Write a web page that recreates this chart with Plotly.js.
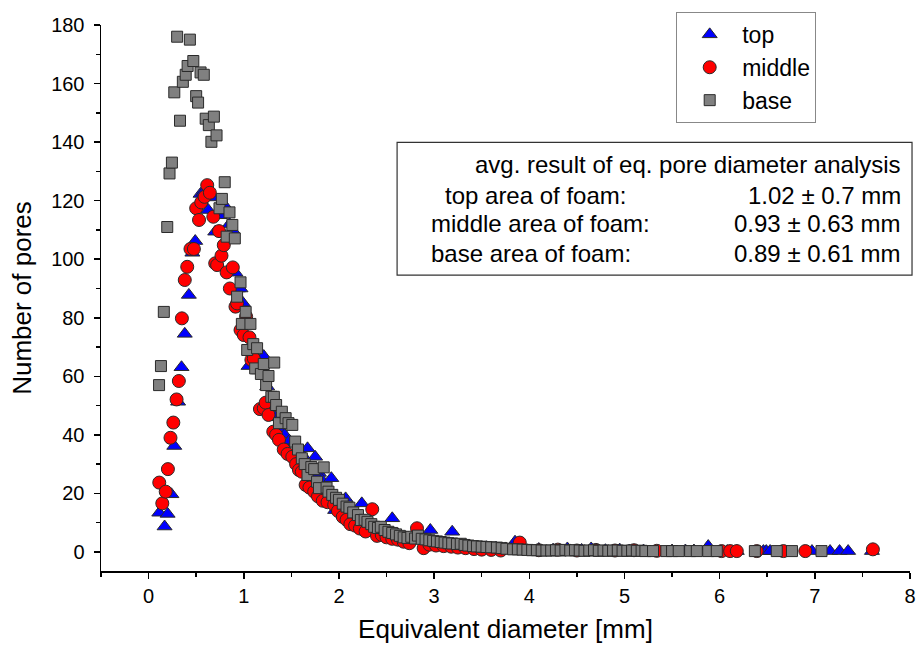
<!DOCTYPE html>
<html>
<head>
<meta charset="utf-8">
<script src="https://cdn.plot.ly/plotly-3.0.1.min.js"></script>
<style>html,body{margin:0;padding:0;background:#fff;}#chart{width:919px;height:651px;}</style>
</head>
<body>
<div id="chart"></div>
<script>
// ---- data ----
const seriesNames = ["top", "middle", "base"];

const topX = [0.112,0.168,0.20,0.24,0.27,0.31,0.346,0.38,0.423,0.46,0.49,0.546,0.58,0.627,0.68,0.70,0.75,0.81,0.85,0.88,0.913,0.94,0.966,0.99,1.02,1.05,1.08,1.12,1.16,1.21,1.246,1.29,1.33,1.38,1.43,1.48,1.53,1.58,1.62,1.67,1.75,1.79,1.82,1.87,1.92,1.96,2.02,2.07,2.13,2.18,2.24,2.30,2.36,2.43,2.50,2.56,2.62,2.70,2.78,2.86,2.96,3.05,3.12,3.19,3.28,3.36,3.45,3.55,3.65,3.75,3.85,3.95,4.10,4.25,4.40,4.55,4.65,4.80,4.95,5.05,5.20,5.50,5.64,5.73,5.88,6.08,6.18,6.46,6.49,6.53,6.97,7.16,7.26,7.35,7.60];
const topY = [13.4,8.7,13,19.7,36.2,51.3,63.1,74.5,87.8,102.2,106.2,122.3,123,116.8,121.1,109.4,115,117.9,112,110,95.4,90,90,85.1,78,63.5,70,67,62,66.9,56.5,50,46,42,40,38,37,34,33,35.4,32.5,27,24.6,22,25.2,14.3,17,18.3,14,12,16.6,10,9,8,7,11.5,6,5,4.5,4,7.5,3,2.5,6.9,2.2,2.0,1.8,1.6,1.4,1.2,3.5,1.0,1.0,0.8,1.2,0.7,1.2,0.6,0.8,0.5,0.5,0.5,0.5,0.5,2.0,0.3,0.3,0.3,0.3,0.3,0.3,0.3,0.3,0.3,0.3];

const midX = [0.112,0.144,0.18,0.203,0.23,0.26,0.294,0.318,0.35,0.38,0.406,0.44,0.476,0.50,0.53,0.553,0.588,0.616,0.644,0.68,0.70,0.72,0.74,0.766,0.79,0.82,0.854,0.885,0.913,0.93,0.966,1.0,1.025,1.06,1.08,1.105,1.17,1.21,1.23,1.26,1.31,1.34,1.37,1.42,1.46,1.51,1.55,1.58,1.61,1.65,1.69,1.74,1.78,1.83,1.88,1.95,1.99,2.04,2.08,2.12,2.17,2.22,2.28,2.35,2.40,2.45,2.50,2.56,2.62,2.68,2.74,2.82,2.89,2.95,3.02,3.10,3.18,3.25,3.33,3.42,3.50,3.60,3.70,3.90,4.10,4.30,4.50,4.70,4.90,5.10,5.34,6.02,6.11,6.18,6.39,6.67,6.90,7.61];
const midY = [23.7,16.6,20.6,28.3,39,44.2,52.1,58.4,79.8,92.9,97.4,103.5,103.5,117.4,113.4,119.4,121.3,125.3,122.7,114.5,98.6,98,109.6,101.2,104.8,95.5,90,97.2,83.8,84.9,75.8,74.1,80.4,73.3,65.6,66.1,48.8,49.1,51,46.8,41.1,40,38.3,35,33.5,32.5,30,28,27.4,22.9,22,20.6,19,17.5,17,16.1,14,12,11,9.5,9,8,7,14.6,5.5,5.8,5,4.5,4.2,3.5,3,8.1,1.3,2.5,2.2,2.0,1.8,1.5,1.3,1.0,0.8,0.7,0.5,3.2,0.6,0.8,0.5,0.7,0.5,0.6,0.4,0.3,0.3,0.3,0.3,0.3,0.3,0.9];

const baseX = [0.11,0.13,0.16,0.196,0.22,0.245,0.27,0.30,0.33,0.36,0.39,0.41,0.434,0.47,0.50,0.52,0.546,0.58,0.60,0.633,0.66,0.686,0.714,0.745,0.77,0.80,0.82,0.85,0.88,0.906,0.93,0.966,0.98,1.02,1.036,1.07,1.10,1.12,1.14,1.18,1.21,1.235,1.26,1.29,1.316,1.32,1.34,1.37,1.40,1.44,1.47,1.51,1.54,1.57,1.61,1.64,1.67,1.71,1.74,1.77,1.79,1.84,1.87,1.89,1.93,1.97,2.00,2.04,2.08,2.11,2.15,2.20,2.23,2.27,2.30,2.34,2.37,2.41,2.44,2.48,2.52,2.56,2.60,2.64,2.68,2.72,2.76,2.80,2.83,2.87,2.91,2.95,2.99,3.03,3.07,3.11,3.15,3.19,3.24,3.28,3.32,3.36,3.41,3.45,3.50,3.55,3.60,3.66,3.71,3.76,3.83,3.88,3.93,3.98,4.03,4.08,4.13,4.18,4.23,4.28,4.33,4.38,4.43,4.48,4.53,4.58,4.63,4.68,4.73,4.78,4.83,4.88,4.93,4.98,5.03,5.08,5.13,5.18,5.22,5.30,5.44,5.50,5.57,5.69,5.76,5.88,5.97,6.37,6.60,6.76,7.07];
const baseY = [57,63.5,82,111,129.3,133,157,176,147.3,160.6,163,166,175,167.7,155.7,153.5,163.8,163,148,145.8,140.1,148.7,142.3,117.4,120.6,126.3,107.7,116,111.7,107.1,87.2,92.1,77.9,82,69,77.9,71,62.7,69.6,60.8,64.2,57,60.1,53,53,64.7,50.2,44,47.9,45.7,44,43.4,37.7,35,32,30,26.3,29,28.3,24,21.8,28.9,22,20.6,19.5,18.5,17.8,16.5,15.5,15.1,13.5,12.6,10.9,11,10.3,9.5,8.6,8.2,8.6,7.5,6.9,6.5,6,5.5,5,4.8,5.2,4.6,5.6,4.5,4.3,4.0,3.8,3.6,3.4,3.2,3.0,2.9,2.7,2.8,2.4,2.2,2.0,1.9,1.8,1.7,1.6,1.5,1.3,1.1,0.9,0.9,0.8,0.7,0.6,0.6,0.5,0.5,0.5,0.6,0.5,0.7,0.5,0.6,0.5,0.4,0.5,0.6,0.4,0.5,0.4,0.5,0.5,0.4,0.4,0.5,0.4,0.4,0.3,0.3,0.3,0.3,0.3,0.3,0.3,0.3,0.3,0.3,0.3,0.3,0.3,1.3];

const xTicks = [0,1,2,3,4,5,6,7,8];
const yTicks = [0,20,40,60,80,100,120,140,160,180];
const boxLines = ["avg. result of eq. pore diameter analysis","top area of foam:","middle area of foam:","base area of foam:"];
const boxValues = ["1.02 ± 0.7 mm","0.93 ± 0.63 mm","0.89 ± 0.61 mm"];

// ---- chart ----
const FONT = "Liberation Sans, Arial, sans-serif";
const outline = {color: "#2a2a2a", width: 1};
const traces = [
  {x: topX, y: topY, name: seriesNames[0], type: "scatter", mode: "markers",
   marker: {symbol: "triangle-up", size: 13, color: "#0000ff", line: outline}},
  {x: midX, y: midY, name: seriesNames[1], type: "scatter", mode: "markers",
   marker: {symbol: "circle", size: 13, color: "#ff0000", line: outline}},
  {x: baseX, y: baseY, name: seriesNames[2], type: "scatter", mode: "markers",
   marker: {symbol: "square", size: 11, color: "#808080", line: outline}}
];

const axisCommon = {
  showline: true, linecolor: "#000", linewidth: 1.5, mirror: false,
  showgrid: false, zeroline: false,
  ticks: "outside", ticklen: 6, tickwidth: 1.5, tickcolor: "#000",
  tickfont: {family: FONT, size: 20, color: "#000"}
};

const rows = [0.7436, 0.6886, 0.6368, 0.5819];
const annotations = [
  {xref: "paper", yref: "paper", x: 0.9917, y: rows[0], xanchor: "right", yanchor: "middle",
   text: boxLines[0], showarrow: false, font: {family: FONT, size: 24, color: "#000"}},
  {xref: "paper", yref: "paper", x: 0.4227, y: rows[1], xanchor: "left", yanchor: "middle",
   text: boxLines[1], showarrow: false, font: {family: FONT, size: 24, color: "#000"}},
  {xref: "paper", yref: "paper", x: 0.4054, y: rows[2], xanchor: "left", yanchor: "middle",
   text: boxLines[2], showarrow: false, font: {family: FONT, size: 24, color: "#000"}},
  {xref: "paper", yref: "paper", x: 0.4054, y: rows[3], xanchor: "left", yanchor: "middle",
   text: boxLines[3], showarrow: false, font: {family: FONT, size: 24, color: "#000"}}
];
boxValues.forEach((v, i) => annotations.push({
  xref: "paper", yref: "paper", x: 0.9917, y: rows[i + 1], xanchor: "right", yanchor: "middle",
  text: v, showarrow: false, font: {family: FONT, size: 24, color: "#000"}
}));

const layout = {
  width: 919, height: 651,
  margin: {l: 101, r: 9, t: 25, b: 80},
  paper_bgcolor: "#fff", plot_bgcolor: "#fff",
  font: {family: FONT, color: "#000"},
  showlegend: true,
  legend: {x: 0.711, y: 1.024, xanchor: "left", yanchor: "top",
           bgcolor: "#fff", bordercolor: "#888", borderwidth: 1,
           font: {family: FONT, size: 23, color: "#000"}, itemwidth: 55, tracegroupgap: 0},
  xaxis: Object.assign({}, axisCommon, {
    range: [-0.5, 8], tickvals: xTicks, ticktext: xTicks.map(String),
    minor: {ticks: "outside", ticklen: 4, tickwidth: 1.5, tickcolor: "#000", dtick: 0.5, tick0: 0},
    title: {text: "Equivalent diameter [mm]", font: {family: FONT, size: 26, color: "#000"}, standoff: 14}
  }),
  yaxis: Object.assign({}, axisCommon, {
    range: [-6.5, 180], tickvals: yTicks, ticktext: yTicks.map(String),
    ticklabelstandoff: 5,
    minor: {ticks: "outside", ticklen: 4, tickwidth: 1.5, tickcolor: "#000", dtick: 10, tick0: 0},
    title: {text: "Number of pores", font: {family: FONT, size: 26, color: "#000"}, standoff: 12}
  }),
  shapes: [{type: "rect", xref: "paper", yref: "paper", x0: 0.366, x1: 1.0025, y0: 0.542, y1: 0.785,
            line: {color: "#333", width: 1.2}, fillcolor: "rgba(0,0,0,0)", layer: "above"}],
  annotations: annotations
};

Plotly.newPlot("chart", traces, layout, {displayModeBar: false, staticPlot: true});
</script>
</body>
</html>
